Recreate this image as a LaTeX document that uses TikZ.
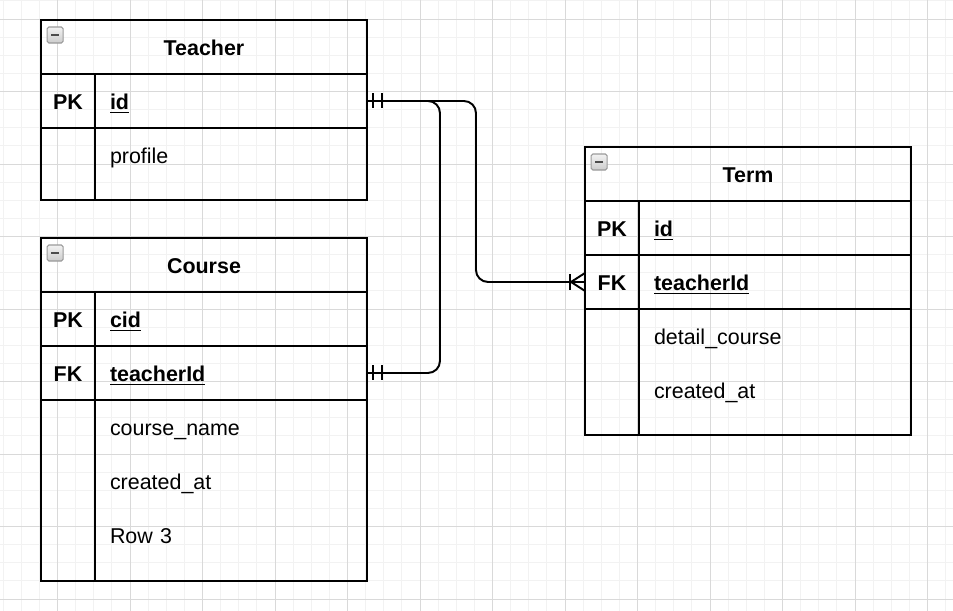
\documentclass[tikz,border=0pt]{standalone}
\usepackage{fontspec}
\setmainfont{Liberation Sans}
\usepackage{tikz}
\usetikzlibrary{positioning,calc}

\newcommand\erfs{\fontsize{12.2}{14.6}\selectfont}

\tikzset{
  gridminor/.style={line width=0.5pt, black!5},
  gridmajor/.style={line width=0.5pt, black!15},
  tablehead/.style={draw, line width=1.1pt, outer sep=0pt, inner sep=0pt,
    minimum width=6.52cm, minimum height=1.08cm, text height=1.15em, text depth=0.18em,
    font=\erfs\bfseries},
  keycell/.style={draw, line width=1.1pt, outer sep=0pt, inner sep=0pt,
    minimum width=1.08cm, minimum height=1.08cm, text height=1.15em, text depth=0.18em,
    font=\erfs\bfseries},
  fieldcell/.style={draw, line width=1.1pt, outer sep=0pt, inner xsep=0.3cm, inner ysep=0pt,
    text width=4.84cm, minimum height=1.08cm, text height=1.15em, text depth=0.18em,
    align=left, font=\erfs},
  fieldrow/.style={fieldcell, draw=none},
  iconbox/.style={draw=gray!80, top color=gray!10, bottom color=gray!40, line width=0.6pt, rounded corners=1pt},
  iconbar/.style={line width=1.4pt, black!70},
  rel/.style={line width=1.1pt, rounded corners=0.24cm},
  relmark/.style={line width=1.1pt}
}

\begin{document}
\begin{tikzpicture}[x=0.02cm, y=-0.02cm]
  \useasboundingbox (0,0) rectangle (953,611);

  % background grid
  \foreach \i in {0,...,52}
    \draw[gridminor] (3.125+18.125*\i,0) -- (3.125+18.125*\i,611);
  \foreach \j in {0,...,33}
    \draw[gridminor] (0,0.875+18.125*\j) -- (953,0.875+18.125*\j);
  \foreach \i in {0,...,12}
    \draw[gridmajor] (57.5+72.5*\i,0) -- (57.5+72.5*\i,611);
  \foreach \j in {0,...,8}
    \draw[gridmajor] (0,19+72.5*\j) -- (953,19+72.5*\j);

  % Teacher
  \node[tablehead] (teacher) at (204,47) {Teacher};
  \node[keycell, below right=0pt of teacher.south west] (teacher-pk) {PK};
  \node[fieldcell, right=0pt of teacher-pk] (teacher-id) {\textbf{\underline{id}}};
  \node[keycell, minimum height=1.44cm, below=0pt of teacher-pk] (teacher-kb) {};
  \node[fieldcell, minimum height=1.44cm, below=0pt of teacher-id] (teacher-fb) {};
  \node[fieldrow, below=0pt of teacher-id] (teacher-profile) {profile};

  % Course
  \node[tablehead] (course) at (204,265) {Course};
  \node[keycell, below right=0pt of course.south west] (course-pk) {PK};
  \node[fieldcell, right=0pt of course-pk] (course-cid) {\textbf{\underline{cid}}};
  \node[keycell, below=0pt of course-pk] (course-fk) {FK};
  \node[fieldcell, right=0pt of course-fk] (course-tid) {\textbf{\underline{teacherId}}};
  \node[keycell, minimum height=3.62cm, below=0pt of course-fk] (course-kb) {};
  \node[fieldcell, minimum height=3.62cm, below=0pt of course-tid] (course-fb) {};
  \node[fieldrow, below=0pt of course-tid] (course-name) {course\_name};
  \node[fieldrow, below=0pt of course-name] (course-created) {created\_at};
  \node[fieldrow, below=0pt of course-created] (course-row3) {Row 3};

  % Term
  \node[tablehead] (term) at (748,174) {Term};
  \node[keycell, below right=0pt of term.south west] (term-pk) {PK};
  \node[fieldcell, right=0pt of term-pk] (term-id) {\textbf{\underline{id}}};
  \node[keycell, below=0pt of term-pk] (term-fk) {FK};
  \node[fieldcell, right=0pt of term-fk] (term-tid) {\textbf{\underline{teacherId}}};
  \node[keycell, minimum height=2.52cm, below=0pt of term-fk] (term-kb) {};
  \node[fieldcell, minimum height=2.52cm, below=0pt of term-tid] (term-fb) {};
  \node[fieldrow, below=0pt of term-tid] (term-detail) {detail\_course};
  \node[fieldrow, below=0pt of term-detail] (term-created) {created\_at};

  % collapse icons
  \foreach \t in {teacher, course, term} {
    \draw[iconbox] ($(\t.north west)+(6,7)$) rectangle ++(16,16);
    \draw[iconbar] ($(\t.north west)+(10,15)$) -- ++(8,0);
  }

  % relations
  \draw[rel] (teacher-id.east) -- ++(73,0) |- (course-tid.east);
  \draw[rel] (teacher-id.east) -- ++(109,0) |- (term-fk.west);

  % one and only one
  \draw[relmark] ($(teacher-id.east)+(6,-7.5)$) -- ++(0,15);
  \draw[relmark] ($(teacher-id.east)+(15,-7.5)$) -- ++(0,15);
  \draw[relmark] ($(course-tid.east)+(6,-7.5)$) -- ++(0,15);
  \draw[relmark] ($(course-tid.east)+(15,-7.5)$) -- ++(0,15);
  % one or many
  \draw[relmark] ($(term-fk.west)+(-15,-8)$) -- ++(0,16);
  \draw[relmark] ($(term-fk.west)+(0,-9)$) -- ($(term-fk.west)+(-14,0)$) -- ($(term-fk.west)+(0,9)$);
\end{tikzpicture}
\end{document}
